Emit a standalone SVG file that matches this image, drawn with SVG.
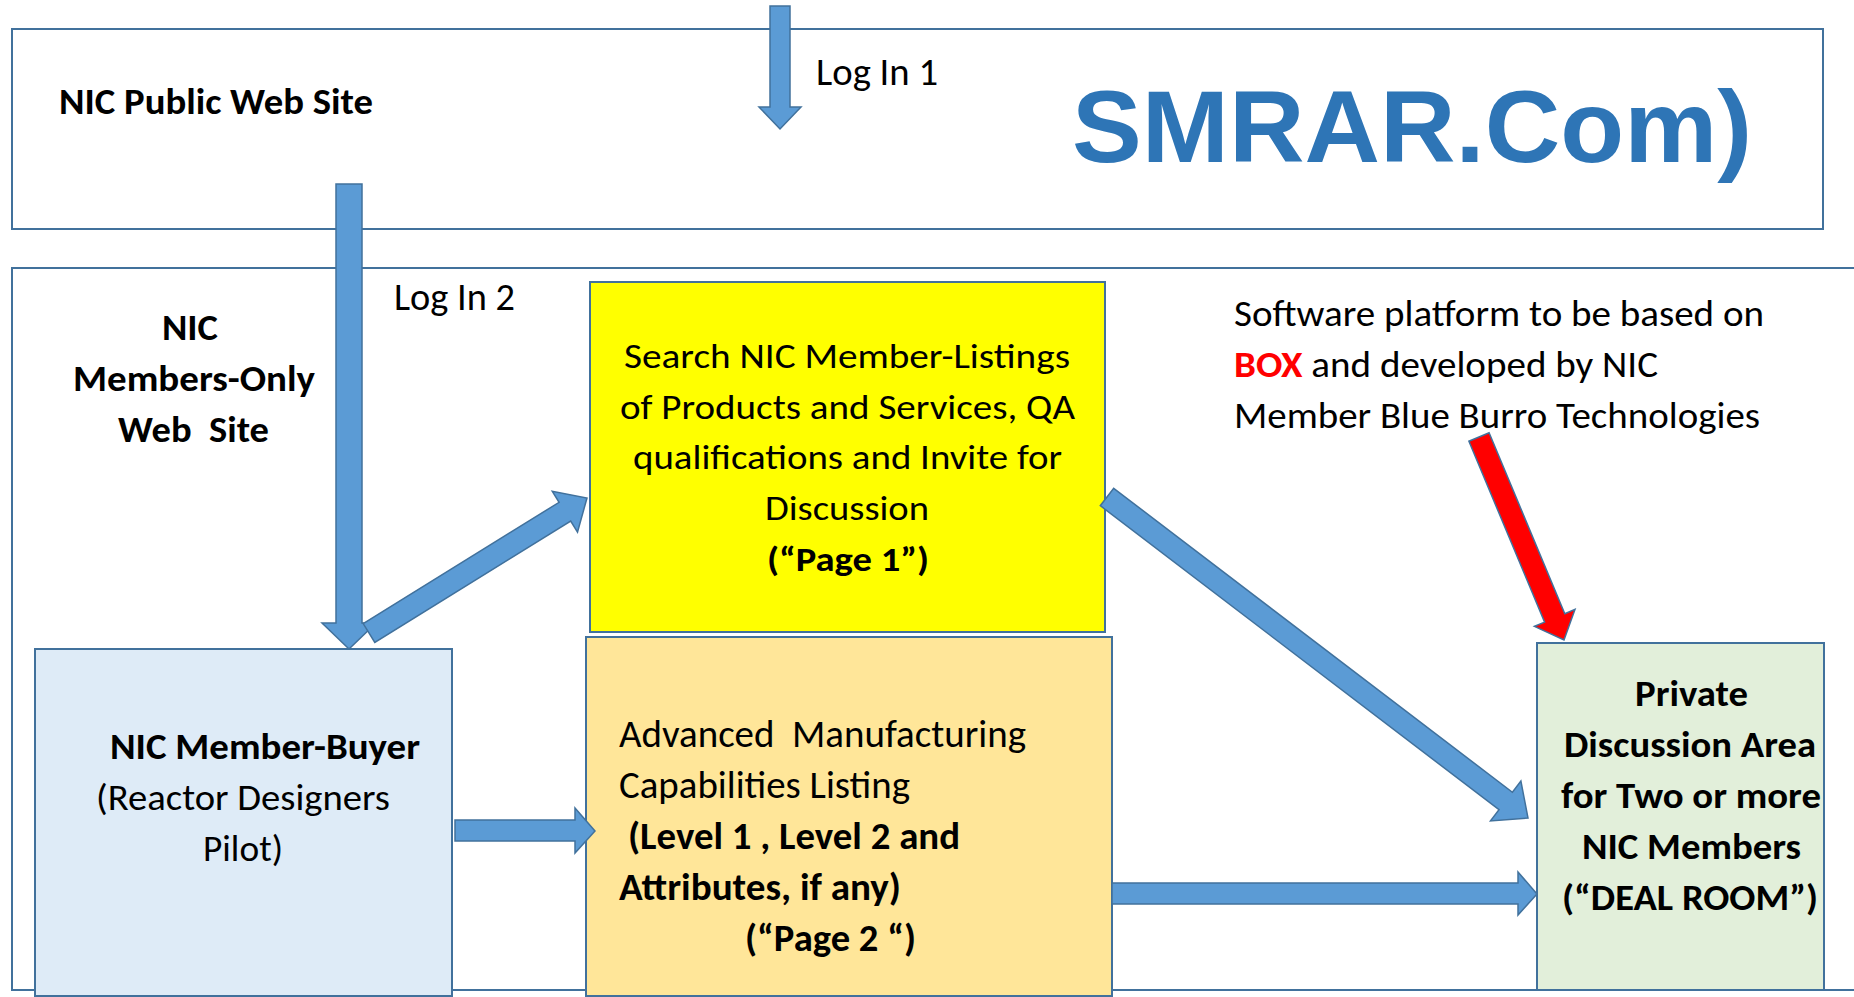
<svg xmlns="http://www.w3.org/2000/svg" width="1854" height="997" viewBox="0 0 1854 997">
<style>
.t{font-family:Carlito,Lato,"Liberation Sans",sans-serif;fill:#000}
.b{font-weight:bold}
.box{stroke:#41719C;stroke-width:2}
.arr{fill:#5B9BD5;stroke:#41719C;stroke-width:1.5;stroke-linejoin:miter}
</style>
<rect width="1854" height="997" fill="#fff"/>
<g id="public-site">
<rect class="box" x="12" y="29" width="1811" height="200" fill="#fff"/>
<text class="t b" x="59" y="114" font-size="37" textLength="314" lengthAdjust="spacingAndGlyphs">NIC Public Web Site</text>
<text x="1072" y="162" font-family="'Liberation Sans',Arial,sans-serif" font-weight="bold" font-size="102" fill="#2E75B6" textLength="680" lengthAdjust="spacingAndGlyphs">SMRAR.Com)</text>
</g>
<g id="members-site">
<rect class="box" x="12" y="268" width="1900" height="722" fill="#fff"/>
<text class="t b" x="162" y="340" font-size="37" textLength="56" lengthAdjust="spacingAndGlyphs">NIC</text>
<text class="t b" x="73" y="391" font-size="37" textLength="242" lengthAdjust="spacingAndGlyphs">Members-Only</text>
<text class="t b" x="118" y="442" font-size="37" textLength="151" lengthAdjust="spacingAndGlyphs" xml:space="preserve">Web  Site</text>
</g>
<g id="page1">
<rect class="box" x="590" y="282" width="515" height="350" fill="#FFFF00"/>
<text class="t" x="624" y="368" font-size="35" textLength="446" lengthAdjust="spacingAndGlyphs">Search NIC Member-Listings</text>
<text class="t" x="620" y="419" font-size="35" textLength="455" lengthAdjust="spacingAndGlyphs">of Products and Services, QA</text>
<text class="t" x="633" y="469" font-size="35" textLength="429" lengthAdjust="spacingAndGlyphs">qualifications and Invite for</text>
<text class="t" x="765" y="520" font-size="35" textLength="164" lengthAdjust="spacingAndGlyphs">Discussion</text>
<text class="t b" x="767" y="571" font-size="35" textLength="162" lengthAdjust="spacingAndGlyphs">(“Page 1”)</text>
</g>
<g id="buyer">
<rect class="box" x="35" y="649" width="417" height="347" fill="#DEEBF7"/>
<text class="t b" x="110" y="759" font-size="37" textLength="310" lengthAdjust="spacingAndGlyphs">NIC Member-Buyer</text>
<text class="t" x="96" y="810" font-size="37" textLength="294" lengthAdjust="spacingAndGlyphs">(Reactor Designers</text>
<text class="t" x="203" y="861" font-size="37" textLength="80" lengthAdjust="spacingAndGlyphs">Pilot)</text>
</g>
<g id="page2">
<rect class="box" x="586" y="637" width="526" height="359" fill="#FFE699"/>
<text class="t" x="619" y="747" font-size="38" textLength="407" lengthAdjust="spacingAndGlyphs" xml:space="preserve">Advanced  Manufacturing</text>
<text class="t" x="619" y="798" font-size="38" textLength="291" lengthAdjust="spacingAndGlyphs">Capabilities Listing</text>
<text class="t b" x="628" y="849" font-size="38" textLength="332" lengthAdjust="spacingAndGlyphs">(Level 1 , Level 2 and</text>
<text class="t b" x="619" y="900" font-size="38" textLength="282" lengthAdjust="spacingAndGlyphs">Attributes, if any)</text>
<text class="t b" x="745" y="951" font-size="38" textLength="171" lengthAdjust="spacingAndGlyphs">(“Page 2 “)</text>
</g>
<g id="deal-room">
<rect class="box" x="1537" y="643" width="287" height="347" fill="#E2EFDA"/>
<text class="t b" x="1635" y="706" font-size="36" textLength="113" lengthAdjust="spacingAndGlyphs">Private</text>
<text class="t b" x="1564" y="757" font-size="36" textLength="252" lengthAdjust="spacingAndGlyphs">Discussion Area</text>
<text class="t b" x="1561" y="808" font-size="36" textLength="260" lengthAdjust="spacingAndGlyphs">for Two or more</text>
<text class="t b" x="1582" y="859" font-size="36" textLength="219" lengthAdjust="spacingAndGlyphs">NIC Members</text>
<text class="t b" x="1562" y="910" font-size="36" textLength="256" lengthAdjust="spacingAndGlyphs">(“DEAL ROOM”)</text>
</g>
<g id="platform-note">
<text class="t" x="1234" y="326" font-size="37" textLength="530" lengthAdjust="spacingAndGlyphs">Software platform to be based on</text>
<text class="t" x="1234" y="377" font-size="37" textLength="424" lengthAdjust="spacingAndGlyphs"><tspan class="b" fill="#FF0000">BOX</tspan> and developed by NIC</text>
<text class="t" x="1234" y="428" font-size="37" textLength="526" lengthAdjust="spacingAndGlyphs">Member Blue Burro Technologies</text>
</g>
<g id="connectors">
<polygon class="arr" points="770,6 790,6 790,107 801,107 780,129 759,107 770,107"/>
<text class="t" x="816" y="85" font-size="38" textLength="122" lengthAdjust="spacingAndGlyphs">Log In 1</text>
<polygon class="arr" points="336,184 362,184 362,623 376,623 349,649 322,623 336,623"/>
<text class="t" x="394" y="310" font-size="38" textLength="121" lengthAdjust="spacingAndGlyphs">Log In 2</text>
<polygon class="arr" points="363.2,623.6 559.1,502.3 552.3,491.3 587,498 577.5,532.1 570.7,521.1 374.8,642.4"/>
<polygon class="arr" points="455,820 575,820 575,808 595,831 575,853 575,841 455,841"/>
<polygon class="arr" points="1113.7,488.3 1512.4,792.3 1520.9,781.1 1528,818 1490.5,820.9 1499,809.7 1100.3,505.7"/>
<polygon class="arr" points="1112,883 1518,883 1518,872 1537,894 1518,915 1518,904 1112,904"/>
<polygon fill="#FF0000" stroke="#41719C" stroke-width="1.5" points="1489.1,432.8 1564.8,613.7 1575,609.4 1564,640 1534.4,626.4 1544.6,622.1 1468.9,441.2"/>
</g>
</svg>
